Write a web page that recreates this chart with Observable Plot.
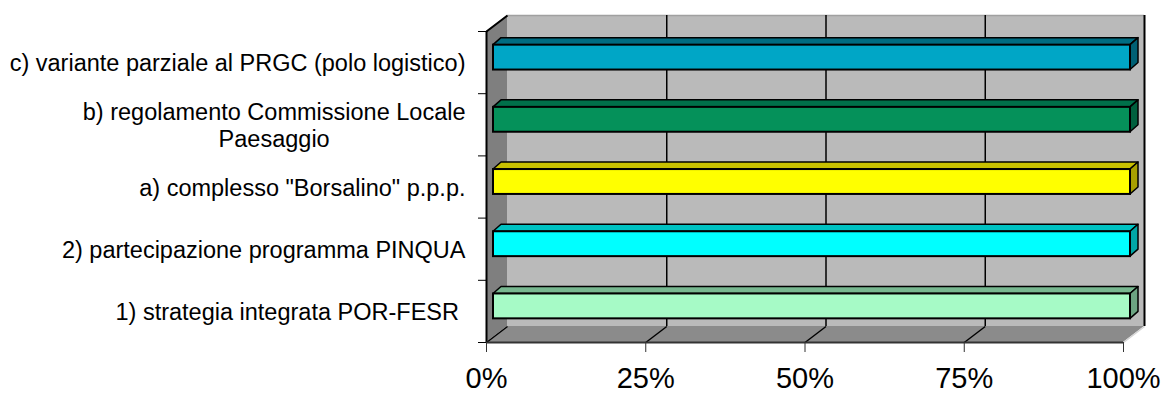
<!DOCTYPE html>
<html><head><meta charset="utf-8">
<script src="https://cdn.jsdelivr.net/npm/d3@7"></script>
<script src="https://cdn.jsdelivr.net/npm/@observablehq/plot@0.6"></script>
<style>
  html,body{margin:0;padding:0;background:#fff}
  #chart svg{display:block;overflow:visible}
</style>
</head><body><div id="chart"></div>
<script>
// Categories bottom → top (index 0 at the floor)
const categories = [
  "1) strategia integrata POR-FESR\u00a0",
  "2) partecipazione programma PINQUA",
  'a) complesso "Borsalino" p.p.p.',
  "b) regolamento Commissione Locale\nPaesaggio",
  "c) variante parziale al PRGC (polo logistico)"
];
const values = [1, 1, 1, 1, 1];
const xTicks = [0, 0.25, 0.5, 0.75, 1];
const xTickLabels = ["0%", "25%", "50%", "75%", "100%"];

const frontColors = ["#a6fac6", "#00ffff", "#ffff00", "#05915a", "#00a6c6"];
const topColors   = ["#78b890", "#00c2c2", "#c8c000", "#00704a", "#006c82"];
const sideColors  = ["#6ca482", "#00a6a6", "#a8a000", "#00603e", "#006074"];

// layout
const WIDTH = 1166, HEIGHT = 394;
const mL = 486, mR = 43, mT = 31, mB = 52;
const W = WIDTH - mL - mR, H = HEIGHT - mT - mB;
const ux = px => px / W;          // x domain spans 1
const uy = px => px / H * 5;      // y domain spans 5
const DX = 21, DY = 16;           // wall depth (px)
const BX = 7, BY = 5;             // bar front offset (px)
const BD = 8, BDY = 7;            // bar depth (px)

const marks = [
  // back wall
  Plot.rect([0], {x1: 0, x2: 1, y1: 0, y2: 5, dx: DX, dy: -DY, fill: "#bababa"}),
  Plot.ruleY([5], {x1: 0, x2: 1, dx: DX, dy: -DY, stroke: "#a0a0a0", strokeWidth: 1.5}),
  Plot.ruleX(xTicks.slice(1, -1), {y1: 0, y2: 5, dx: DX, dy: -DY, stroke: "#000", strokeWidth: 1.5}),
  Plot.ruleX([1], {y1: 0, y2: 5, dx: DX, dy: -DY, stroke: "#000", strokeWidth: 2}),
  // left wall
  Plot.areaY([{x: 0, y1: 0, y2: 5}, {x: ux(DX), y1: uy(DY), y2: 5 + uy(DY)}],
    {x: "x", y1: "y1", y2: "y2", fill: "#7f7f7f"}),
  // floor
  Plot.areaX([{y: 0, x1: 0, x2: 1}, {y: uy(DY), x1: ux(DX), x2: 1 + ux(DX)}],
    {y: "y", x1: "x1", x2: "x2", fill: "#8b8b8b"}),
  // floor grid
  Plot.link(xTicks.slice(0, -1), {x1: d => d, y1: 0, x2: d => d + ux(DX), y2: uy(DY), stroke: "#000", strokeWidth: 1.5}),
  Plot.link([1], {x1: d => d, y1: 0, x2: d => d + ux(DX), y2: uy(DY), stroke: "#d4d4d4", strokeWidth: 1.5}),
  // left wall edges
  Plot.link([0], {x1: 0, y1: 5, x2: ux(DX), y2: 5 + uy(DY), stroke: "#000", strokeWidth: 2}),
  Plot.ruleX([0], {y1: 0, y2: 5, stroke: "#000", strokeWidth: 2}),
  Plot.ruleY([0], {x1: 0, x2: 1, stroke: "#333", strokeWidth: 2})
];

values.forEach((v, i) => {
  const lo = i + 0.3, hi = i + 0.7;
  marks.push(Plot.areaX(
    [{y: hi, x1: 0, x2: v}, {y: hi + uy(BDY), x1: ux(BD), x2: v + ux(BD)}],
    {y: "y", x1: "x1", x2: "x2", dx: BX, dy: -BY, fill: topColors[i], stroke: "#000", strokeWidth: 1.5, strokeLinejoin: "round"}));
  marks.push(Plot.areaY(
    [{x: v, y1: lo, y2: hi}, {x: v + ux(BD), y1: lo + uy(BDY), y2: hi + uy(BDY)}],
    {x: "x", y1: "y1", y2: "y2", dx: BX, dy: -BY, fill: sideColors[i], stroke: "#000", strokeWidth: 1.5, strokeLinejoin: "round"}));
  marks.push(Plot.rect([v], {x1: 0, x2: d => d, y1: lo, y2: hi, dx: BX, dy: -BY,
    fill: frontColors[i], stroke: "#000", strokeWidth: 2}));
});

// axes
marks.push(
  Plot.axisY({ticks: [0, 1, 2, 3, 4, 5], tickSize: 8, tickFormat: () => "", label: null, stroke: "#000"}),
  Plot.axisY({ticks: categories.map((c, i) => i + 0.5), tickSize: 0, tickPadding: 21,
    tickFormat: d => categories[Math.floor(d)], fontSize: 23.5, lineHeight: 1.15, label: null}),
  Plot.axisX({ticks: xTicks, tickFormat: d => xTickLabels[xTicks.indexOf(d)], tickSize: 10, tickPadding: 15,
    fontSize: 29, label: null, stroke: "#333"})
);

const chart = Plot.plot({
  width: WIDTH, height: HEIGHT,
  marginLeft: mL, marginRight: mR, marginTop: mT, marginBottom: mB,
  x: {domain: [0, 1]},
  y: {domain: [0, 5]},
  style: {fontFamily: "'Liberation Sans', Arial, sans-serif", color: "#000", background: "#fff", overflow: "visible"},
  marks
});
document.getElementById("chart").appendChild(chart);

// Center wrapped (multi-line) category labels like the original
chart.querySelectorAll("text").forEach(t => {
  const spans = t.querySelectorAll("tspan");
  if (spans.length > 1) {
    const lens = [...spans].map(s => s.getComputedTextLength());
    const max = Math.max(...lens);
    spans.forEach(s => {
      const x0 = +s.getAttribute("x") || 0;
      s.setAttribute("text-anchor", "middle");
      s.setAttribute("x", x0 - max / 2);
    });
  }
});
</script>
</body></html>
